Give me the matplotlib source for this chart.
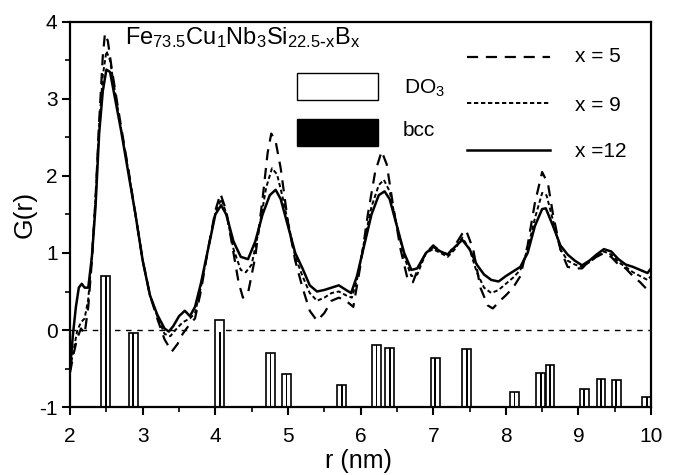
import numpy as np
import matplotlib
matplotlib.use("Agg")
import matplotlib.pyplot as plt
from matplotlib.patches import Rectangle

plt.rcParams['font.family'] = ['Liberation Sans', 'DejaVu Sans']
plt.rcParams['mathtext.default'] = 'regular'
plt.rcParams['axes.unicode_minus'] = False

# reduced distribution function G(r)
r5 = [2.00, 2.05, 2.10, 2.15, 2.20, 2.25, 2.30, 2.35, 2.40, 2.45, 2.48, 2.52, 2.58, 2.70, 2.80,
      2.90, 3.00, 3.10, 3.20, 3.30, 3.40, 3.48, 3.55, 3.65, 3.72, 3.80, 3.90, 4.00, 4.07, 4.15,
      4.25, 4.32, 4.38, 4.45, 4.55, 4.65, 4.72, 4.77, 4.83, 4.90, 5.00, 5.10, 5.20, 5.30, 5.40,
      5.50, 5.60, 5.70, 5.80, 5.90, 6.00, 6.10, 6.20, 6.29, 6.36, 6.45, 6.55, 6.65, 6.72, 6.80,
      6.90, 7.00, 7.10, 7.20, 7.30, 7.40, 7.45, 7.55, 7.65, 7.75, 7.82, 7.92, 8.00, 8.10, 8.20,
      8.30, 8.40, 8.50, 8.58, 8.65, 8.75, 8.85, 8.95, 9.05, 9.15, 9.25, 9.35, 9.45, 9.55, 9.65,
      9.75, 9.85, 9.95, 10.0]
g5 = [-0.55, -0.30, -0.10, 0.02, -0.05, 0.30, 0.90, 1.70, 2.70, 3.55, 3.85, 3.75, 3.35, 2.65, 2.10,
      1.50, 0.90, 0.45, 0.15, -0.12, -0.28, -0.18, -0.05, 0.08, 0.15, 0.50, 1.05, 1.55, 1.77, 1.55,
      1.00, 0.62, 0.42, 0.48, 0.95, 1.70, 2.30, 2.55, 2.45, 2.10, 1.40, 0.90, 0.55, 0.25, 0.12,
      0.22, 0.38, 0.42, 0.38, 0.30, 0.85, 1.50, 2.05, 2.32, 2.15, 1.60, 1.05, 0.65, 0.62, 0.82,
      1.00, 1.10, 1.02, 0.98, 1.10, 1.25, 1.30, 1.05, 0.55, 0.32, 0.28, 0.38, 0.45, 0.55, 0.70,
      1.10, 1.65, 2.05, 1.90, 1.50, 1.05, 0.82, 0.80, 0.80, 0.90, 0.95, 1.00, 0.95, 0.85, 0.80,
      0.70, 0.62, 0.52, 0.58]

r9 = [2.00, 2.05, 2.10, 2.15, 2.20, 2.25, 2.30, 2.35, 2.40, 2.45, 2.50, 2.55, 2.60, 2.70, 2.80,
      2.90, 3.00, 3.10, 3.20, 3.30, 3.38, 3.45, 3.55, 3.65, 3.72, 3.80, 3.90, 4.00, 4.08, 4.15,
      4.25, 4.35, 4.42, 4.50, 4.60, 4.70, 4.78, 4.85, 4.92, 5.00, 5.10, 5.20, 5.30, 5.40, 5.50,
      5.60, 5.70, 5.80, 5.88, 5.95, 6.05, 6.15, 6.25, 6.32, 6.40, 6.50, 6.60, 6.70, 6.78, 6.90,
      7.00, 7.10, 7.20, 7.30, 7.40, 7.50, 7.60, 7.70, 7.80, 7.90, 8.00, 8.10, 8.20, 8.30, 8.40,
      8.50, 8.56, 8.65, 8.75, 8.85, 8.95, 9.05, 9.15, 9.25, 9.35, 9.45, 9.55, 9.65, 9.75, 9.85,
      9.95, 10.0]
g9 = [-0.50, -0.25, 0.00, 0.10, 0.15, 0.40, 0.95, 1.70, 2.65, 3.30, 3.62, 3.50, 3.20, 2.62, 2.08,
      1.50, 0.90, 0.45, 0.18, -0.05, -0.08, 0.00, 0.10, 0.15, 0.22, 0.55, 1.05, 1.52, 1.70, 1.52,
      1.05, 0.78, 0.75, 0.85, 1.30, 1.85, 2.10, 2.02, 1.75, 1.40, 0.95, 0.70, 0.48, 0.38, 0.42,
      0.48, 0.50, 0.45, 0.42, 0.65, 1.15, 1.60, 1.88, 1.95, 1.80, 1.35, 0.95, 0.70, 0.72, 1.00,
      1.05, 1.00, 0.95, 1.05, 1.20, 1.05, 0.75, 0.55, 0.48, 0.52, 0.60, 0.68, 0.78, 1.05, 1.45,
      1.78, 1.75, 1.42, 1.05, 0.90, 0.85, 0.82, 0.88, 0.95, 1.02, 0.98, 0.88, 0.82, 0.75, 0.70,
      0.65, 0.70]

r12 = [2.00, 2.04, 2.08, 2.12, 2.16, 2.20, 2.25, 2.30, 2.35, 2.40, 2.45, 2.50, 2.55, 2.60, 2.70,
       2.80, 2.90, 3.00, 3.10, 3.20, 3.30, 3.36, 3.42, 3.50, 3.58, 3.65, 3.72, 3.80, 3.90, 4.00,
       4.08, 4.15, 4.25, 4.35, 4.45, 4.55, 4.65, 4.75, 4.83, 4.90, 5.00, 5.10, 5.20, 5.30, 5.40,
       5.50, 5.60, 5.70, 5.80, 5.87, 5.95, 6.05, 6.15, 6.25, 6.33, 6.40, 6.50, 6.60, 6.70, 6.78,
       6.90, 7.00, 7.10, 7.20, 7.30, 7.40, 7.50, 7.60, 7.70, 7.80, 7.90, 8.00, 8.10, 8.20, 8.30,
       8.40, 8.50, 8.55, 8.65, 8.75, 8.85, 8.95, 9.05, 9.15, 9.25, 9.35, 9.45, 9.55, 9.65, 9.75,
       9.85, 9.95, 10.0]
g12 = [-0.50, -0.05, 0.30, 0.55, 0.60, 0.55, 0.55, 0.95, 1.60, 2.55, 3.10, 3.38, 3.35, 3.10, 2.60,
       2.05, 1.50, 0.90, 0.45, 0.20, 0.02, -0.02, 0.05, 0.18, 0.25, 0.18, 0.30, 0.60, 1.05, 1.50,
       1.62, 1.50, 1.15, 0.95, 0.92, 1.15, 1.50, 1.75, 1.82, 1.70, 1.35, 1.00, 0.80, 0.58, 0.50,
       0.52, 0.55, 0.58, 0.52, 0.48, 0.70, 1.10, 1.50, 1.75, 1.80, 1.70, 1.35, 1.00, 0.78, 0.80,
       1.00, 1.08, 1.02, 0.98, 1.08, 1.17, 1.05, 0.85, 0.72, 0.65, 0.63, 0.70, 0.76, 0.82, 1.00,
       1.35, 1.57, 1.58, 1.35, 1.10, 0.98, 0.90, 0.84, 0.90, 0.98, 1.05, 1.02, 0.92, 0.85, 0.82,
       0.78, 0.74, 0.80]

# peak positions (bars start at G = -1)
peak_r = [2.49, 2.87, 4.06, 4.76, 4.98, 5.74, 6.22, 6.40, 7.03, 7.46,
          8.12, 8.48, 8.61, 9.08, 9.31, 9.52, 9.94]
do3_top = [0.70, -0.04, 0.13, -0.30, -0.57, -0.71, -0.19, -0.23, -0.36, -0.24,
           -0.81, -0.56, -0.46, -0.77, -0.64, -0.65, -0.87]
bcc_top = [0.70, -0.04, -0.02, -0.30, -0.57, -0.71, -0.19, -0.23, -0.36, -0.24,
           -0.81, -0.56, -0.46, -0.77, -0.64, -0.65, -0.87]

fig = plt.figure(figsize=(6.74, 4.75), dpi=100)
ax = fig.add_axes([0.104, 0.143, 0.862, 0.811])

base = -1
ax.bar(peak_r, np.array(do3_top) - base, bottom=base, width=0.12,
       facecolor='white', edgecolor='black', linewidth=1.2, zorder=2)
ax.bar(peak_r, np.array(bcc_top) - base, bottom=base, width=0.025,
       color='black', linewidth=0, zorder=3)

ax.axhline(0, color='black', lw=1, dashes=(4, 4), zorder=1)

ax.plot(r5, g5, color='black', lw=1.6, dashes=(5, 3.5), zorder=4)
ax.plot(r9, g9, color='black', lw=1.4, dashes=(2.2, 1.4), zorder=4)
ax.plot(r12, g12, color='black', lw=1.8, zorder=5)

ax.set_xlim(2, 10)
ax.set_ylim(-1, 4)
ax.set_xticks(range(2, 11))
ax.set_yticks(range(-1, 5))
ax.set_xticks(np.arange(2.5, 10, 1), minor=True)
ax.set_yticks(np.arange(-0.5, 4, 1), minor=True)
ax.tick_params(which='major', direction='out', length=6, width=1.5, labelsize=15, pad=3)
ax.tick_params(axis='x', which='major', pad=8)
ax.tick_params(which='minor', direction='out', length=3.5, width=1.2)
for s in ax.spines.values():
    s.set_linewidth(1.6)

ax.set_xlabel('r (nm)', fontsize=18)
ax.set_ylabel('G(r)', fontsize=19)
ax.xaxis.set_label_coords(0.497, -0.108)
ax.yaxis.set_label_coords(-0.058, 0.5)

# composition and hand-drawn legend
ax.text(0.094, 0.958, r'Fe$_{73.5}$Cu$_1$Nb$_3$Si$_{22.5\text{-}x}$B$_x$',
        transform=ax.transAxes, fontsize=17, va='center', ha='left')

ax.add_patch(Rectangle((0.391, 0.797), 0.139, 0.07, transform=ax.transAxes,
                       facecolor='white', edgecolor='black', lw=1))
ax.add_patch(Rectangle((0.391, 0.678), 0.139, 0.07, transform=ax.transAxes,
                       facecolor='black', edgecolor='black', lw=1))
ax.text(0.575, 0.828, 'DO$_3$', transform=ax.transAxes, fontsize=15, va='center')
ax.text(0.573, 0.718, 'bcc', transform=ax.transAxes, fontsize=15, va='center')

ax.plot([0.683, 0.826], [0.909, 0.909], transform=ax.transAxes, color='black',
        lw=1.6, dashes=(5, 3.5))
ax.plot([0.683, 0.826], [0.790, 0.790], transform=ax.transAxes, color='black',
        lw=1.4, dashes=(2.2, 1.4))
ax.plot([0.683, 0.826], [0.668, 0.668], transform=ax.transAxes, color='black', lw=1.8)
ax.text(0.869, 0.909, 'x = 5', transform=ax.transAxes, fontsize=15, va='center')
ax.text(0.869, 0.783, 'x = 9', transform=ax.transAxes, fontsize=15, va='center')
ax.text(0.869, 0.663, 'x =12', transform=ax.transAxes, fontsize=15, va='center')

fig.savefig('out.png', dpi=100)
